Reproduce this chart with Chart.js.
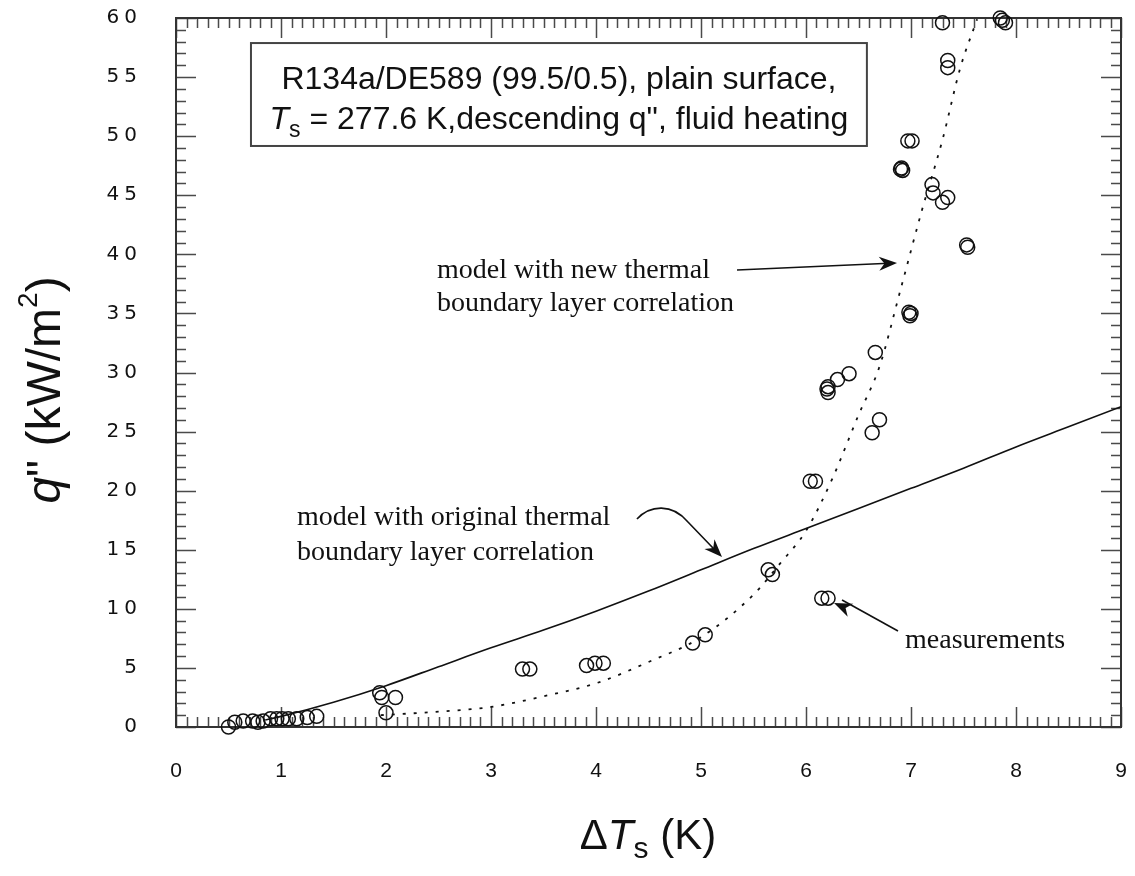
<!DOCTYPE html>
<html>
<head>
<meta charset="utf-8">
<script src="https://cdn.jsdelivr.net/npm/chart.js@4.4.1/dist/chart.umd.min.js"></script>
<style>
  html, body { margin: 0; padding: 0; background: #ffffff; }
  #wrap { width: 1135px; height: 876px; }
</style>
</head>
<body>
<div id="wrap"><canvas id="c" width="1135" height="876"></canvas></div>
<script>
// ---- data ----
const measX = [0.50,0.56,0.64,0.73,0.78,0.83,0.90,0.96,1.01,1.07,1.15,1.25,1.34,
  1.94,1.96,2.09,2.00,3.30,3.37,3.91,3.99,4.07,4.92,5.04,5.64,5.68,6.15,6.21,
  6.04,6.09,6.20,6.21,6.21,6.30,6.41,6.66,6.70,6.63,6.98,6.99,7.00,6.91,6.92,6.90,
  6.97,7.01,7.20,7.21,7.30,7.35,7.53,7.54,7.30,7.35,7.35,7.85,7.90,7.87];
const measY = [0.0,0.4,0.5,0.5,0.4,0.5,0.7,0.7,0.7,0.7,0.7,0.8,0.9,
  2.9,2.5,2.5,1.2,4.9,4.9,5.2,5.4,5.4,7.1,7.8,13.3,12.9,10.9,10.9,
  20.8,20.8,28.6,28.3,28.8,29.4,29.9,31.7,26.0,24.9,35.1,34.8,35.0,47.3,47.1,47.2,
  49.6,49.6,45.9,45.2,44.4,44.8,40.8,40.6,59.6,56.4,55.8,60.0,59.6,59.8];

const origModelX = [0.85,1,1.5,2,2.5,3,3.5,4,4.5,5,5.5,6,6.5,7,7.5,8,8.5,9];
const origModelY = [0.6,0.9,2.1,3.5,5.1,6.7,8.2,9.8,11.5,13.3,15.1,16.8,18.5,20.2,21.9,23.7,25.4,27.1];

const newModelX = [1.95,2.5,3,3.5,4,4.5,5,5.5,5.75,6,6.25,6.5,6.7,6.9,7.1,7.3,7.47,7.63];
const newModelY = [1.0,1.3,1.7,2.6,3.7,5.5,7.6,11.2,13.8,16.6,21.0,26.4,30.5,37.0,43.6,49.7,55.8,59.9];

const xMin = 0, xMax = 9, xStep = 1;
const yMin = 0, yMax = 60, yStep = 5;

const titleLine1 = 'R134a/DE589 (99.5/0.5), plain surface,';
const titleLine2 = ['T', 's', ' = 277.6 K,descending q", fluid heating'];
const noteNew = ['model with new thermal', 'boundary layer correlation'];
const noteOrig = ['model with original thermal', 'boundary layer correlation'];
const noteMeas = 'measurements';

const toXY = (xs, ys) => xs.map((x, i) => ({ x: x, y: ys[i] }));

// ---- plugin: frame + inward ticks on all four sides ----
const framePlugin = {
  id: 'frame',
  beforeDatasetsDraw(chart) {
    const { ctx, chartArea: a, scales } = chart;
    const xs = scales.x, ys = scales.y;
    ctx.save();
    ctx.strokeStyle = '#4a4a4a';
    ctx.lineWidth = 1.5;
    ctx.beginPath();
    for (let i = 0; i <= (xMax - xMin) * 10; i++) {
      const v = xMin + i / 10;
      const px = Math.round(xs.getPixelForValue(v)) + 0.5;
      const len = (i % 10 === 0) ? 20 : 10;
      ctx.moveTo(px, a.bottom); ctx.lineTo(px, a.bottom - len);
      ctx.moveTo(px, a.top); ctx.lineTo(px, a.top + len);
    }
    for (let v = yMin; v <= yMax; v += 1) {
      const py = Math.round(ys.getPixelForValue(v)) + 0.5;
      const len = (v % 5 === 0) ? 20 : 10;
      ctx.moveTo(a.left, py); ctx.lineTo(a.left + len, py);
      ctx.moveTo(a.right, py); ctx.lineTo(a.right - len, py);
    }
    ctx.stroke();
    ctx.strokeStyle = '#333333';
    ctx.lineWidth = 2;
    ctx.strokeRect(a.left, a.top, a.right - a.left, a.bottom - a.top);
    ctx.restore();
  }
};

// ---- plugin: axis titles, info box, annotations ----
function drawSegments(ctx, segs, cx, cy) {
  let total = 0;
  segs.forEach(s => { ctx.font = s.font; s.w = ctx.measureText(s.text).width; total += s.w; });
  let x = cx - total / 2;
  segs.forEach(s => {
    ctx.font = s.font;
    ctx.fillText(s.text, x, cy + (s.dy || 0));
    x += s.w;
  });
}
function arrowHead(ctx, fx, fy, tx, ty, len, wid) {
  const ang = Math.atan2(ty - fy, tx - fx);
  ctx.beginPath();
  ctx.moveTo(tx, ty);
  ctx.lineTo(tx - len * Math.cos(ang) + wid * Math.sin(ang), ty - len * Math.sin(ang) - wid * Math.cos(ang));
  ctx.lineTo(tx - len * 0.7 * Math.cos(ang), ty - len * 0.7 * Math.sin(ang));
  ctx.lineTo(tx - len * Math.cos(ang) - wid * Math.sin(ang), ty - len * Math.sin(ang) + wid * Math.cos(ang));
  ctx.closePath();
  ctx.fill();
}

const annoPlugin = {
  id: 'anno',
  afterDraw(chart) {
    const { ctx, scales } = chart;
    const X = v => scales.x.getPixelForValue(v);
    const Y = v => scales.y.getPixelForValue(v);
    ctx.save();
    ctx.fillStyle = '#111';
    ctx.strokeStyle = '#111';
    ctx.textBaseline = 'alphabetic';
    ctx.textAlign = 'left';

    const sans = '"Liberation Sans", Arial, sans-serif';
    const serif = '"Liberation Serif", "Times New Roman", serif';

    // x axis title
    drawSegments(ctx, [
      { text: '\u0394', font: '42px ' + sans },
      { text: 'T', font: 'italic 42px ' + sans },
      { text: 's', font: '30px ' + sans, dy: 9 },
      { text: ' (K)', font: '42px ' + sans }
    ], 648, 849);

    // y axis title (rotated)
    ctx.save();
    ctx.translate(60, 390);
    ctx.rotate(-Math.PI / 2);
    drawSegments(ctx, [
      { text: 'q', font: 'italic 48px ' + sans },
      { text: '" (kW/m', font: '48px ' + sans },
      { text: '2', font: '28px ' + sans, dy: -23 },
      { text: ')', font: '48px ' + sans }
    ], 0, 0);
    ctx.restore();

    // info box
    const bl = X(0.714), br = X(6.58), bt = Y(57.88), bb = Y(49.17);
    ctx.fillStyle = '#fff';
    ctx.fillRect(bl, bt, br - bl, bb - bt);
    ctx.strokeStyle = '#444';
    ctx.lineWidth = 2;
    ctx.strokeRect(bl, bt, br - bl, bb - bt);
    ctx.fillStyle = '#111';
    const bcx = (bl + br) / 2;
    drawSegments(ctx, [{ text: titleLine1, font: '32px ' + sans }], bcx, Y(54.92) + 11);
    drawSegments(ctx, [
      { text: titleLine2[0], font: 'italic 32px ' + sans },
      { text: titleLine2[1], font: '23px ' + sans, dy: 8 },
      { text: titleLine2[2], font: '32px ' + sans }
    ], bcx, Y(51.54) + 11);

    // annotations
    ctx.font = '28px ' + serif;
    ctx.textAlign = 'left';
    ctx.fillText(noteNew[0], X(2.486), Y(38.67) + 8);
    ctx.fillText(noteNew[1], X(2.486), Y(35.88) + 8);
    ctx.fillText(noteOrig[0], X(1.152), Y(17.77) + 8);
    ctx.fillText(noteOrig[1], X(1.152), Y(14.81) + 8);
    ctx.fillText(noteMeas, X(6.943), Y(7.36) + 8);

    ctx.strokeStyle = '#111';
    ctx.fillStyle = '#111';
    ctx.lineWidth = 1.6;
    // new model arrow
    let fx = X(5.343), fy = Y(38.67), tx = X(6.867), ty = Y(39.27);
    ctx.beginPath(); ctx.moveTo(fx, fy); ctx.lineTo(tx - 8, ty + 0.3); ctx.stroke();
    arrowHead(ctx, fx, fy, tx, ty, 18, 7);
    // original model curved arrow
    ctx.beginPath();
    ctx.moveTo(X(4.39), Y(17.60));
    ctx.bezierCurveTo(X(4.514), Y(18.79), X(4.724), Y(18.96), X(4.876), Y(17.35));
    ctx.lineTo(X(5.13), Y(15.0));
    ctx.stroke();
    arrowHead(ctx, X(4.876), Y(17.35), X(5.2), Y(14.39), 18, 7);
    // measurements arrow
    fx = X(6.876); fy = Y(8.12); tx = X(6.267); ty = Y(10.49);
    ctx.beginPath(); ctx.moveTo(fx, fy); ctx.lineTo(tx + 8, ty - 3); ctx.stroke();
    arrowHead(ctx, fx, fy, tx, ty, 18, 7);

    ctx.restore();
  }
};

const chart = new Chart(document.getElementById('c'), {
  type: 'scatter',
  data: {
    datasets: [
      {
        label: 'model with original thermal boundary layer correlation',
        type: 'line',
        data: toXY(origModelX, origModelY),
        borderColor: '#111',
        borderWidth: 1.6,
        pointRadius: 0,
        fill: false,
        cubicInterpolationMode: 'monotone',
        order: 2
      },
      {
        label: 'model with new thermal boundary layer correlation',
        type: 'line',
        data: toXY(newModelX, newModelY),
        borderColor: '#111',
        borderWidth: 1.8,
        borderDash: [3, 8],
        pointRadius: 0,
        fill: false,
        cubicInterpolationMode: 'monotone',
        order: 2
      },
      {
        label: 'measurements',
        data: toXY(measX, measY),
        pointStyle: 'circle',
        pointRadius: 7,
        pointBorderWidth: 1.5,
        borderColor: '#111',
        backgroundColor: 'rgba(0,0,0,0)',
        clip: false,
        order: 1
      }
    ]
  },
  options: {
    responsive: false,
    animation: false,
    layout: { padding: { left: 0, top: 18, right: 14, bottom: 0 } },
    plugins: { legend: { display: false }, tooltip: { enabled: false } },
    scales: {
      x: {
        type: 'linear',
        min: xMin, max: xMax,
        grid: { display: false, drawTicks: false },
        border: { display: false },
        ticks: {
          stepSize: xStep,
          padding: 32,
          color: '#111',
          font: { family: '"Liberation Sans", Arial, sans-serif', size: 21 }
        },
        afterFit(s) { s.height = 149; s.paddingLeft = 0; s.paddingRight = 0; }
      },
      y: {
        type: 'linear',
        min: yMin, max: yMax,
        grid: { display: false, drawTicks: false },
        border: { display: false },
        ticks: {
          stepSize: yStep,
          padding: 34,
          color: '#111',
          font: { family: '"DejaVu Sans", sans-serif', size: 20 }
        },
        afterFit(s) {
          s.width = 176; s.paddingTop = 0; s.paddingBottom = 0;
          if (!s._lsPatched) {
            const orig = s.drawLabels.bind(s);
            s.drawLabels = function (area) {
              const c = this.ctx;
              const prev = c.letterSpacing;
              c.letterSpacing = '5px';
              orig(area);
              c.letterSpacing = prev || '0px';
            };
            s._lsPatched = true;
          }
        }
      }
    }
  },
  plugins: [framePlugin, annoPlugin]
});
</script>
</body>
</html>
